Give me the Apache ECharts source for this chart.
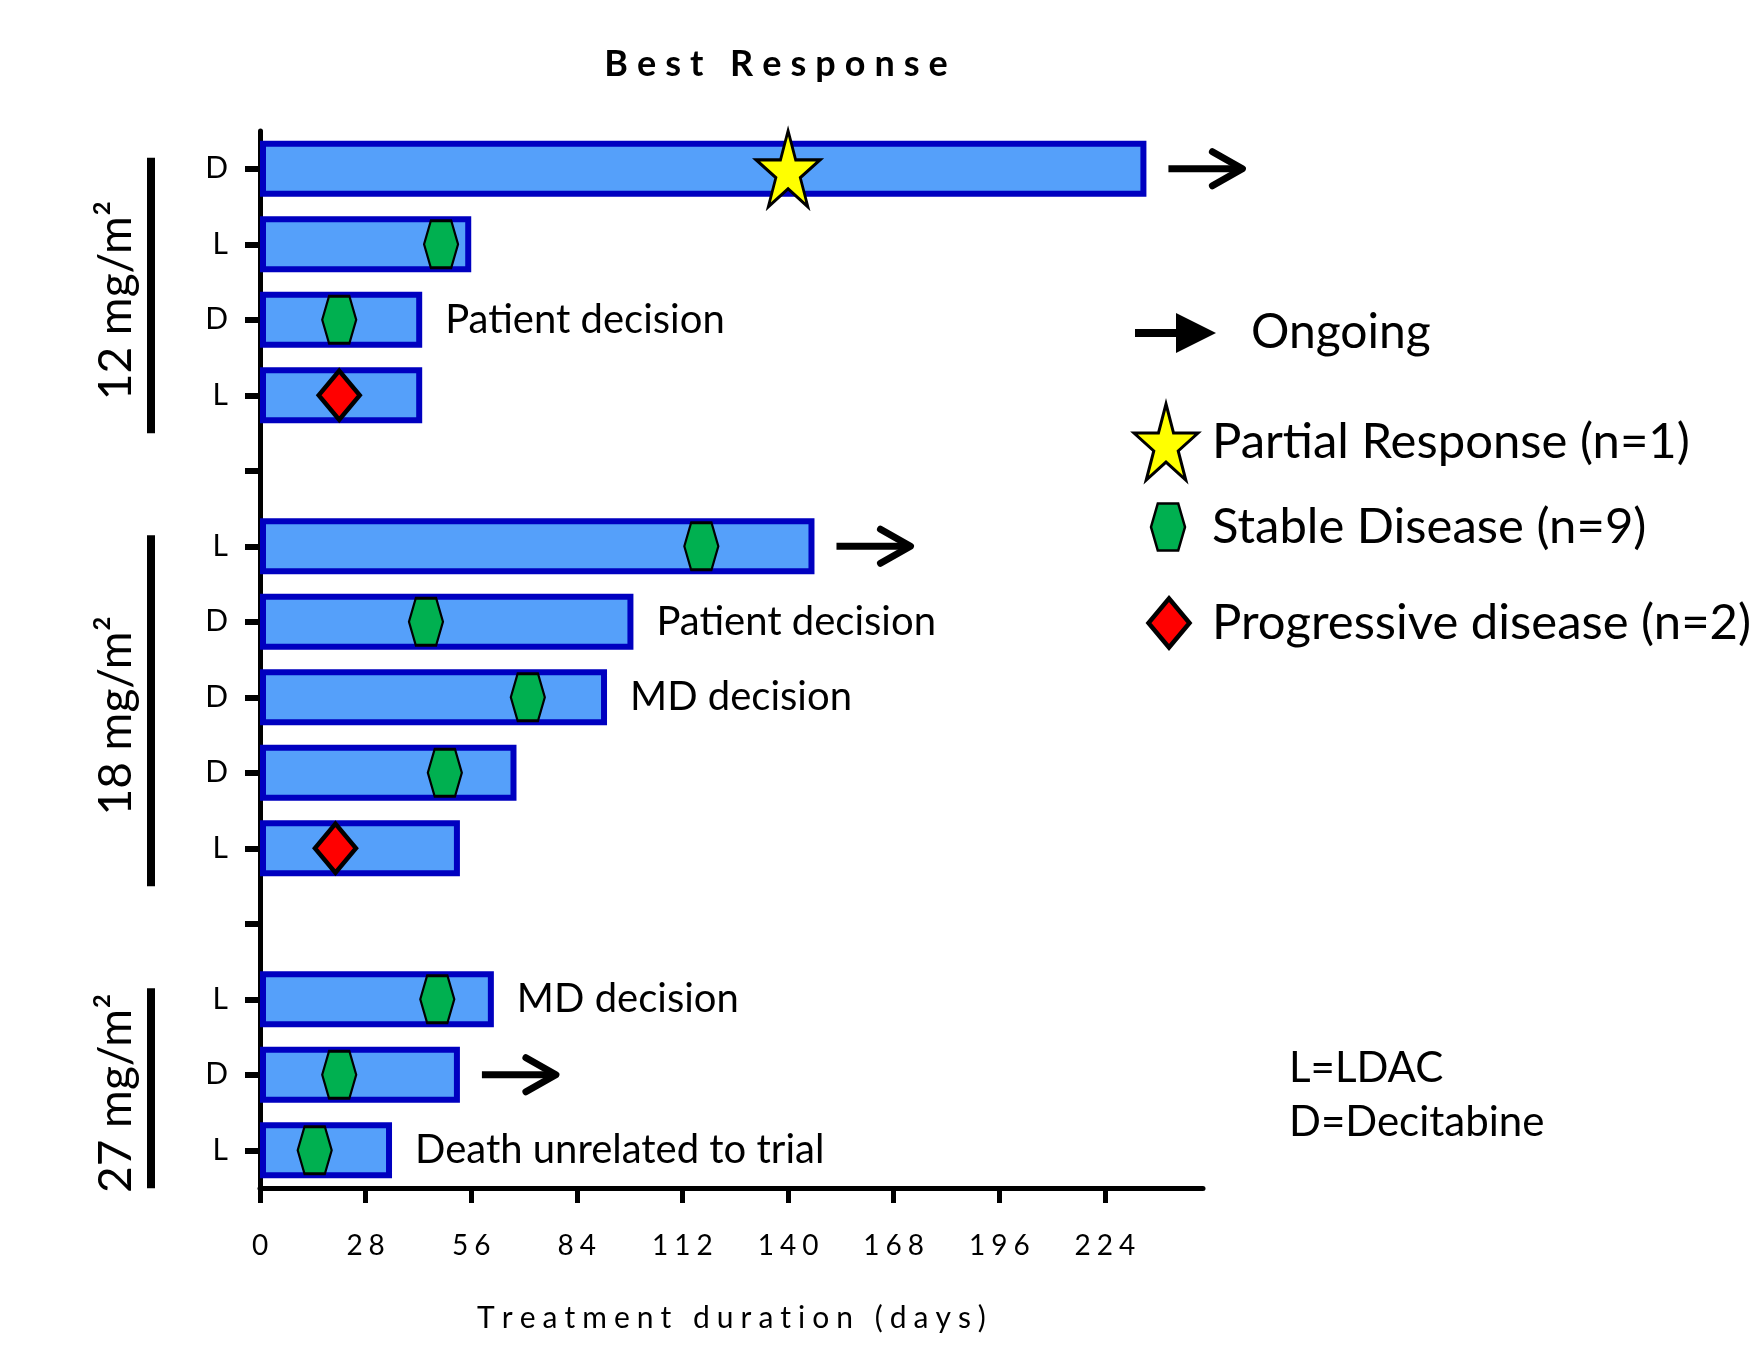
<!DOCTYPE html>
<html>
<head>
<meta charset="utf-8">
<title>Best Response</title>
<script src="https://cdn.jsdelivr.net/npm/echarts@6/dist/echarts.min.js"></script>
<style>
  html, body { margin: 0; padding: 0; background: #ffffff; }
  #chart { width: 1754px; height: 1357px; }
</style>
</head>
<body>
<div id="chart"></div>
<script>
// ---- data: one row per patient, top to bottom; '' rows are spacers between dose cohorts ----
const arms        = ['D', 'L', 'D', 'L', '', 'L', 'D', 'D', 'D', 'L', '', 'L', 'D', 'L'];
const durations   = [235, 56, 43, 43, null, 147, 99, 92, 68, 53, null, 62, 53, 35];
const responseDay = [140, 48, 21, 21, null, 117, 44, 71, 49, 20, null, 47, 21, 14.5];
const responses   = ['PR', 'SD', 'SD', 'PD', '', 'SD', 'SD', 'SD', 'SD', 'PD', '', 'SD', 'SD', 'SD'];
const ongoing     = [true, false, false, false, false, true, false, false, false, false, false, false, true, false];
const notes       = ['', '', 'Patient decision', '', '', '', 'Patient decision', 'MD decision', '', '', '', 'MD decision', '', 'Death unrelated to trial'];

const doseLabels = ['12 mg/m²', '18 mg/m²', '27 mg/m²'];
const doseFirst  = [0, 5, 11];
const doseLast   = [3, 9, 13];

const xMin = 0, xMax = 250, xStep = 28;   // ticks 0, 28, ... 224 plus the axis end

const titleText = 'Best Response';
const xAxisName = 'Treatment duration (days)';
const armKey = ['L=LDAC', 'D=Decitabine'];

// ---- tracked text: title, x-axis name and x tick labels are drawn with extra space between glyphs ----
const spacingFor = (t) => {
  if (t === titleText) return 9;
  if (t === xAxisName) return 7;
  if (/^\d+$/.test(t)) return 6;
  return 0;
};
['fillText', 'strokeText'].forEach((fn) => {
  const native = CanvasRenderingContext2D.prototype[fn];
  CanvasRenderingContext2D.prototype[fn] = function (text, x, y, maxWidth) {
    const str = String(text);
    const gap = spacingFor(str);
    if (!gap || str.length < 2) {
      return maxWidth === undefined ? native.call(this, text, x, y) : native.call(this, text, x, y, maxWidth);
    }
    const chars = Array.from(str);
    const widths = chars.map((c) => this.measureText(c).width);
    const total = widths.reduce((a, b) => a + b, 0) + gap * (chars.length - 1);
    const align = this.textAlign;
    let cx = x;
    if (align === 'center') cx = x - total / 2;
    else if (align === 'right' || align === 'end') cx = x - total;
    this.textAlign = 'left';
    chars.forEach((c, i) => {
      native.call(this, c, cx, y);
      cx += widths[i] + gap;
    });
    this.textAlign = align;
  };
});

// ---- symbols (vertex lists in a local box) ----
const FONT = 'Lato';
const STAR_PTS = [[100, 0], [122.45, 69.1], [195.1, 69.1], [136.3, 111.8], [158.8, 180.9], [100, 138.2],
                  [41.2, 180.9], [63.7, 111.8], [4.9, 69.1], [77.55, 69.1]];
const HEX_PTS = [[0, 50], [20, 0], [80, 0], [100, 50], [80, 100], [20, 100]];
const DIAMOND_PTS = [[50, 0], [100, 50], [50, 100], [0, 50]];
const toPath = (pts) => 'path://M' + pts.map((p) => p.join(',')).join(' L') + ' Z';
const fitPoints = (pts, cx, cy, w, h) => {
  const xs = pts.map((p) => p[0]), ys = pts.map((p) => p[1]);
  const x0 = Math.min(...xs), x1 = Math.max(...xs), y0 = Math.min(...ys), y1 = Math.max(...ys);
  return pts.map((p) => [cx - w / 2 + (p[0] - x0) / (x1 - x0) * w, cy - h / 2 + (p[1] - y0) / (y1 - y0) * h]);
};

const responseStyle = {
  PR: { name: 'Partial Response', pts: STAR_PTS, size: [64, 76], color: '#FFFF00', border: 3 },
  SD: { name: 'Stable Disease', pts: HEX_PTS, size: [34, 47], color: '#00B050', border: 2.5 },
  PD: { name: 'Progressive disease', pts: DIAMOND_PTS, size: [41, 49], color: '#FF0000', border: 4.5 }
};
const countOf = (k) => responses.filter((r) => r === k).length;

const barData = durations.map((v, i) => {
  if (v === null) return null;
  const item = { value: v };
  if (notes[i]) item.label = { show: true, formatter: notes[i] };
  return item;
});

const responseSeries = ['PR', 'SD', 'PD'].map((k) => ({
  type: 'scatter',
  name: responseStyle[k].name,
  symbol: toPath(responseStyle[k].pts),
  symbolSize: responseStyle[k].size,
  z: 5,
  itemStyle: { color: responseStyle[k].color, borderColor: '#000', borderWidth: responseStyle[k].border, opacity: 1 },
  data: responses.map((r, i) => (r === k ? [responseDay[i], i] : null)).filter((d) => d)
}));

const arrowData = durations.map((v, i) => (ongoing[i] ? [v, i] : null)).filter((d) => d);

const chart = echarts.init(document.getElementById('chart'), null, { renderer: 'canvas' });

chart.setOption({
  animation: false,
  backgroundColor: '#ffffff',
  title: {
    text: titleText,
    left: 776,
    top: 46,
    textAlign: 'center',
    padding: 0,
    textStyle: { fontFamily: FONT, fontWeight: 'bold', fontSize: 36, color: '#000' }
  },
  grid: { left: 260, right: 551, top: 131, bottom: 169, containLabel: false },
  xAxis: {
    type: 'value',
    min: xMin,
    max: xMax,
    interval: xStep,
    splitLine: { show: false },
    axisLine: { show: true, lineStyle: { color: '#000', width: 5 } },
    axisTick: { show: true, length: 15, lineStyle: { color: '#000', width: 5 } },
    axisLabel: { showMaxLabel: false, color: '#000', fontFamily: FONT, fontSize: 28, margin: 44 },
    name: xAxisName,
    nameLocation: 'middle',
    nameGap: 115,
    nameTextStyle: { color: '#000', fontFamily: FONT, fontSize: 30 }
  },
  yAxis: {
    type: 'category',
    data: arms,
    inverse: true,
    axisLine: { show: true, lineStyle: { color: '#000', width: 5 } },
    axisTick: { show: true, alignWithLabel: true, interval: 0, length: 15, lineStyle: { color: '#000', width: 6 } },
    axisLabel: { interval: 0, color: '#000', fontFamily: FONT, fontSize: 30, margin: 32 },
    splitLine: { show: false }
  },
  series: [
    {
      type: 'bar',
      name: 'Treatment duration',
      data: barData,
      barWidth: 56,
      z: 2,
      itemStyle: { color: '#55A0FA', borderColor: '#0000C0', borderWidth: 6 },
      label: { show: false, position: 'right', distance: 23, color: '#000', fontFamily: FONT, fontSize: 40 }
    },
    ...responseSeries,
    {
      type: 'custom',
      name: 'Ongoing',
      z: 4,
      data: arrowData,
      renderItem: (params, api) => {
        const p = api.coord([api.value(0), api.value(1)]);
        const x0 = p[0] + 22, x1 = x0 + 74, y = p[1];
        return {
          type: 'group',
          children: [
            { type: 'line', shape: { x1: x0, y1: y, x2: x1 - 2, y2: y }, style: { stroke: '#000', lineWidth: 7 } },
            {
              type: 'polyline',
              shape: { points: [[x1 - 30, y - 17], [x1, y], [x1 - 30, y + 17]] },
              style: { stroke: '#000', fill: null, lineWidth: 7, lineCap: 'round', lineJoin: 'round' }
            }
          ]
        };
      }
    }
  ]
});

// ---- cohort brackets, legend and arm key ----
const yOf = (i) => chart.convertToPixel({ yAxisIndex: 0 }, i);
const graphics = [];
doseLabels.forEach((label, g) => {
  const y0 = yOf(doseFirst[g]) - 11;
  const y1 = yOf(doseLast[g]) + 38;
  graphics.push({ type: 'rect', shape: { x: 147, y: y0, width: 8, height: y1 - y0 }, style: { fill: '#000' } });
  graphics.push({
    type: 'text', x: 116, y: (y0 + y1) / 2 + 5, rotation: Math.PI / 2,
    style: { text: label, fontFamily: FONT, fontSize: 46, fill: '#000', align: 'center', verticalAlign: 'middle' }
  });
});

// legend: ongoing arrow
graphics.push({ type: 'rect', shape: { x: 1135, y: 329, width: 43, height: 8 }, style: { fill: '#000' } });
graphics.push({ type: 'polygon', shape: { points: [[1176, 313], [1216, 333], [1176, 353]] }, style: { fill: '#000' } });
graphics.push({
  type: 'text', x: 1251, y: 333,
  style: { text: 'Ongoing', fontFamily: FONT, fontSize: 48, fill: '#000', align: 'left', verticalAlign: 'middle' }
});

// legend: response symbols
const legendRows = [
  { key: 'PR', cx: 1166, cy: 442 },
  { key: 'SD', cx: 1168, cy: 527 },
  { key: 'PD', cx: 1169, cy: 623 }
];
legendRows.forEach((r) => {
  const s = responseStyle[r.key];
  graphics.push({
    type: 'polygon',
    shape: { points: fitPoints(s.pts, r.cx, r.cy, s.size[0], s.size[1]) },
    style: { fill: s.color, stroke: '#000', lineWidth: s.border, lineJoin: 'miter' }
  });
  graphics.push({
    type: 'text', x: 1212, y: r.cy,
    style: { text: `${s.name} (n=${countOf(r.key)})`, fontFamily: FONT, fontSize: 49, fill: '#000', align: 'left', verticalAlign: 'middle' }
  });
});

// arm key
armKey.forEach((t, i) => {
  graphics.push({
    type: 'text', x: 1289, y: 1068 + i * 54,
    style: { text: t, fontFamily: FONT, fontSize: 42, fill: '#000', align: 'left', verticalAlign: 'middle' }
  });
});

chart.setOption({ graphic: graphics });
</script>
</body>
</html>
